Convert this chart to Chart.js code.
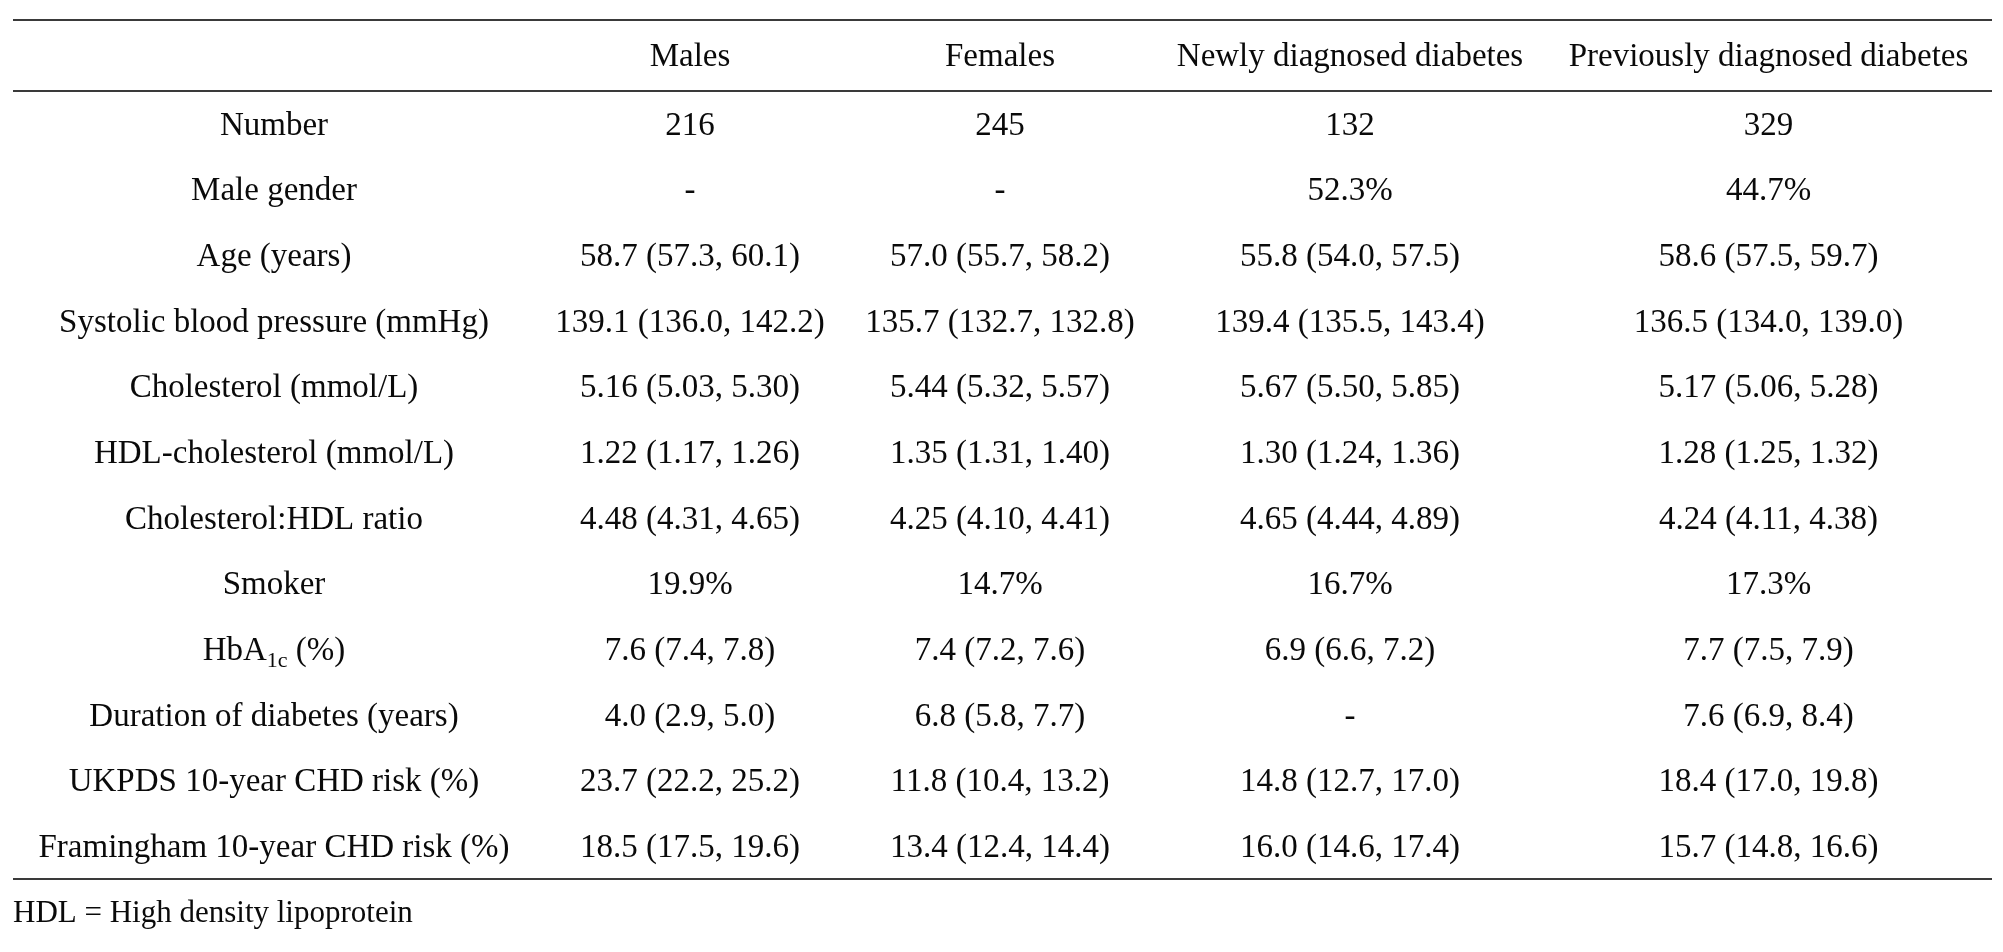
<!DOCTYPE html>
<html>
<head>
<meta charset="utf-8">
<script src="https://cdn.jsdelivr.net/npm/chart.js@4/dist/chart.umd.min.js"></script>
<style>
  body { margin: 0; background: #fff; }
  canvas { display: block; }
</style>
</head>
<body>
<canvas id="myTable" width="2003" height="952"></canvas>
<script>
const GROUPS = ['Males', 'Females', 'Newly diagnosed diabetes', 'Previously diagnosed diabetes'];

const ROW_LABELS = [
  'Number',
  'Male gender',
  'Age (years)',
  'Systolic blood pressure (mmHg)',
  'Cholesterol (mmol/L)',
  'HDL-cholesterol (mmol/L)',
  'Cholesterol:HDL ratio',
  'Smoker',
  'HbA1c (%)',
  'Duration of diabetes (years)',
  'UKPDS 10-year CHD risk (%)',
  'Framingham 10-year CHD risk (%)',
];

const MALES = [
  '216', '-', '58.7 (57.3, 60.1)', '139.1 (136.0, 142.2)', '5.16 (5.03, 5.30)', '1.22 (1.17, 1.26)',
  '4.48 (4.31, 4.65)', '19.9%', '7.6 (7.4, 7.8)', '4.0 (2.9, 5.0)', '23.7 (22.2, 25.2)', '18.5 (17.5, 19.6)',
];
const FEMALES = [
  '245', '-', '57.0 (55.7, 58.2)', '135.7 (132.7, 132.8)', '5.44 (5.32, 5.57)', '1.35 (1.31, 1.40)',
  '4.25 (4.10, 4.41)', '14.7%', '7.4 (7.2, 7.6)', '6.8 (5.8, 7.7)', '11.8 (10.4, 13.2)', '13.4 (12.4, 14.4)',
];
const NEWLY_DIAGNOSED = [
  '132', '52.3%', '55.8 (54.0, 57.5)', '139.4 (135.5, 143.4)', '5.67 (5.50, 5.85)', '1.30 (1.24, 1.36)',
  '4.65 (4.44, 4.89)', '16.7%', '6.9 (6.6, 7.2)', '-', '14.8 (12.7, 17.0)', '16.0 (14.6, 17.4)',
];
const PREVIOUSLY_DIAGNOSED = [
  '329', '44.7%', '58.6 (57.5, 59.7)', '136.5 (134.0, 139.0)', '5.17 (5.06, 5.28)', '1.28 (1.25, 1.32)',
  '4.24 (4.11, 4.38)', '17.3%', '7.7 (7.5, 7.9)', '7.6 (6.9, 8.4)', '18.4 (17.0, 19.8)', '15.7 (14.8, 16.6)',
];

const FOOTNOTE = 'HDL = High density lipoprotein';

// characters drawn as subscript, by label
const SUBSCRIPTS = { 'HbA1c (%)': [3, 5] };

// layout (pixels in x, row units in y)
const COL_EDGES = [0, 522, 832, 1142, 1532, 1979];
const HEADER_HEIGHT = 1.081;
const FONT = '33px "Liberation Serif", "Times New Roman", serif';
const SUB_FONT = '22px "Liberation Serif", "Times New Roman", serif';
const NOTE_FONT = '31px "Liberation Serif", "Times New Roman", serif';
const TEXT_COLOR = '#0a0a0a';
const RULE_COLOR = '#3a3a3a';

function colCenter(i) {
  return (COL_EDGES[i] + COL_EDGES[i + 1]) / 2;
}

function buildColumn(colIndex, header, cells) {
  let texts = [];
  let points = [];
  if (header !== null) {
    texts.push(header);
    points.push({ x: colCenter(colIndex), y: -HEADER_HEIGHT / 2 });
  }
  cells.forEach((cell, row) => {
    texts.push(cell);
    points.push({ x: colCenter(colIndex), y: row + 0.5 });
  });
  return {
    data: points,
    texts: texts,
    pointRadius: 0,
    pointHoverRadius: 0,
    showLine: false,
  };
}

function drawCellText(ctx, text, x, y) {
  let sub = SUBSCRIPTS[text];
  ctx.fillStyle = TEXT_COLOR;
  ctx.textBaseline = 'alphabetic';
  if (!sub) {
    ctx.font = FONT;
    ctx.textAlign = 'center';
    ctx.fillText(text, x, y);
    return;
  }
  let parts = [
    { s: text.slice(0, sub[0]), font: FONT, dy: 0 },
    { s: text.slice(sub[0], sub[1]), font: SUB_FONT, dy: 7 },
    { s: text.slice(sub[1]), font: FONT, dy: 0 },
  ];
  let total = 0;
  parts.forEach((p) => {
    ctx.font = p.font;
    p.w = ctx.measureText(p.s).width;
    total += p.w;
  });
  let left = x - total / 2;
  ctx.textAlign = 'left';
  parts.forEach((p) => {
    ctx.font = p.font;
    ctx.fillText(p.s, left, y + p.dy);
    left += p.w;
  });
}

const tableText = {
  id: 'tableText',
  afterDatasetsDraw(chart) {
    const ctx = chart.ctx;
    ctx.save();
    chart.data.datasets.forEach((ds, i) => {
      chart.getDatasetMeta(i).data.forEach((pt, j) => {
        drawCellText(ctx, ds.texts[j], pt.x, pt.y + 11);
      });
    });
    const yScale = chart.scales.y;
    ctx.font = NOTE_FONT;
    ctx.textAlign = 'left';
    ctx.fillStyle = TEXT_COLOR;
    ctx.fillText(FOOTNOTE, chart.chartArea.left, yScale.getPixelForValue(ROW_LABELS.length) + 43);
    ctx.restore();
  },
};

const TABLE = document.getElementById('myTable').getContext('2d');

let tableChart = new Chart(TABLE, {
  type: 'scatter',
  data: {
    datasets: [
      buildColumn(0, '', ROW_LABELS),
      buildColumn(1, GROUPS[0], MALES),
      buildColumn(2, GROUPS[1], FEMALES),
      buildColumn(3, GROUPS[2], NEWLY_DIAGNOSED),
      buildColumn(4, GROUPS[3], PREVIOUSLY_DIAGNOSED),
    ],
  },
  options: {
    responsive: false,
    animation: false,
    devicePixelRatio: 1,
    layout: { padding: { left: 13, right: 11, top: 20, bottom: 73 } },
    plugins: {
      legend: { display: false },
      tooltip: { enabled: false },
    },
    scales: {
      x: {
        type: 'linear',
        min: COL_EDGES[0],
        max: COL_EDGES[COL_EDGES.length - 1],
        display: false,
      },
      y: {
        type: 'linear',
        reverse: true,
        min: -HEADER_HEIGHT,
        max: ROW_LABELS.length,
        afterBuildTicks: (scale) => {
          scale.ticks = [{ value: -HEADER_HEIGHT }, { value: 0 }, { value: ROW_LABELS.length }];
        },
        ticks: { display: false },
        border: { display: false },
        grid: { color: RULE_COLOR, lineWidth: 2, drawTicks: false },
      },
    },
  },
  plugins: [tableText],
});
</script>
</body>
</html>
